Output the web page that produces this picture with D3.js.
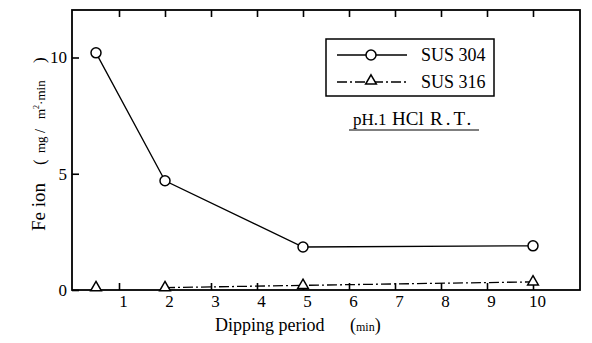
<!DOCTYPE html>
<html><head><meta charset="utf-8">
<script src="https://cdn.jsdelivr.net/npm/d3@7"></script>
<style>body{margin:0;background:#fff}svg{display:block}svg text{font-family:"Liberation Serif","Times New Roman",serif !important;fill:#000;white-space:pre}</style>
</head><body><svg id="c" width="592" height="343"></svg>
<script>
const xTicks = [1,2,3,4,5,6,7,8,9,10];
const yTicks = [0,5,10];
const sus304X = [0.5, 2, 5, 10];
const sus304Y = [10.2, 4.7, 1.85, 1.9];
const sus316X = [0.5, 2, 5, 10];
const sus316Y = [0.1, 0.1, 0.2, 0.35];
const seriesNames = ["SUS 304", "SUS 316"];
const condition = ["pH.1", "HCl", "R.T."];

const SERIF = "'Liberation Serif', 'Times New Roman', serif";
const svg = d3.select("#c");
const L=72, R=580, T=10, B=290;
const x = d3.scaleLinear().domain([0,11]).range([L+1,R-1]);
const y = d3.scaleLinear().domain([0,12]).range([B,T+1]);

svg.append("rect").attr("x",L).attr("y",T).attr("width",R-L).attr("height",B-T)
  .attr("fill","none").attr("stroke","#000").attr("stroke-width",1.8);

const xb = d3.axisBottom(x).tickValues(xTicks).tickSize(-7).tickPadding(5).tickFormat(d3.format("d"));
const gx = svg.append("g").attr("transform",`translate(0,${B})`).call(xb).attr("font-family",SERIF);
gx.select(".domain").remove();
gx.selectAll("line").attr("stroke","#000").attr("stroke-width",1.6);
gx.selectAll("text").attr("font-size",17).attr("dx",4).style("font-family",SERIF);
const gt = svg.append("g").attr("transform",`translate(0,${T})`).call(d3.axisTop(x).tickValues(xTicks).tickSize(-7).tickFormat(""));
gt.select(".domain").remove();
gt.selectAll("line").attr("stroke","#000").attr("stroke-width",1.6);
const gy = svg.append("g").attr("transform",`translate(${L},0)`).call(d3.axisLeft(y).tickValues(yTicks).tickSize(-7).tickPadding(5).tickFormat(d3.format("d"))).attr("font-family",SERIF);
gy.select(".domain").remove();
gy.selectAll("line").attr("stroke","#000").attr("stroke-width",1.6);
gy.selectAll("text").attr("font-size",17).style("font-family",SERIF);

const d304 = sus304X.map((v,i)=>[v,sus304Y[i]]);
const d316 = sus316X.map((v,i)=>[v,sus316Y[i]]);
const line = d3.line().x(d=>x(d[0])).y(d=>y(d[1]));
svg.append("path").attr("d",line(d304)).attr("fill","none").attr("stroke","#000").attr("stroke-width",1.3);
svg.append("path").attr("d",line(d316.slice(1))).attr("fill","none").attr("stroke","#000").attr("stroke-width",1.3).attr("stroke-dasharray","10,3,2,3");

const tri = d3.symbol().type(d3.symbolTriangle).size(50);
function circ(g,cx,cy){g.append("circle").attr("cx",cx).attr("cy",cy).attr("r",5).attr("fill","#fff").attr("stroke","#000").attr("stroke-width",1.5);}
function triM(g,cx,cy){g.append("path").attr("d",tri()).attr("transform",`translate(${cx},${cy})`).attr("fill","#fff").attr("stroke","#000").attr("stroke-width",1.5);}
d304.forEach(d=>circ(svg,x(d[0]),y(d[1])));
d316.forEach(d=>triM(svg,x(d[0]),y(d[1])));

const lg = svg.append("g");
lg.append("rect").attr("x",326).attr("y",39).attr("width",168).attr("height",57).attr("fill","#fff").attr("stroke","#000").attr("stroke-width",1.5);
lg.append("line").attr("x1",337).attr("x2",407).attr("y1",55).attr("y2",55).attr("stroke","#000").attr("stroke-width",1.3);
circ(lg,371,55);
lg.append("line").attr("x1",337).attr("x2",407).attr("y1",82).attr("y2",82).attr("stroke","#000").attr("stroke-width",1.3).attr("stroke-dasharray","10,3,2,3");
triM(lg,371,81);
lg.append("text").attr("x",421).attr("y",61).attr("font-size",18).style("font-family",SERIF).text(seriesNames[0]);
lg.append("text").attr("x",421).attr("y",88).attr("font-size",18).style("font-family",SERIF).text(seriesNames[1]);

const ct = svg.append("text").attr("y",125).attr("font-size",19).style("font-family",SERIF);
ct.append("tspan").attr("x",353).attr("font-size",17).text(condition[0]);
ct.append("tspan").attr("x",392).text(condition[1]);
ct.append("tspan").attr("x",430).attr("letter-spacing",3).text(condition[2]);
svg.append("line").attr("x1",349).attr("x2",479).attr("y1",130).attr("y2",130).attr("stroke","#000").attr("stroke-width",1.2);

const xt = svg.append("text").attr("x",215).attr("y",331).attr("font-size",18).style("font-family",SERIF);
xt.append("tspan").text("Dipping period");
xt.append("tspan").attr("x",350).attr("font-size",18).text("(");
xt.append("tspan").attr("font-size",12).text("min");
xt.append("tspan").attr("font-size",18).text(")");

const yt = svg.append("text").attr("transform","translate(45,231) rotate(-90)").attr("font-size",19).style("font-family",SERIF);
yt.append("tspan").text("Fe ion");
yt.append("tspan").attr("x",66).attr("font-size",17).text("(");
yt.append("tspan").attr("x",78).attr("font-size",13).text("mg");
yt.append("tspan").attr("x",98).attr("font-size",14).text("/");
yt.append("tspan").attr("x",112).attr("font-size",13).text("m");
yt.append("tspan").attr("font-size",8).attr("dy",-6).text("2");
yt.append("tspan").attr("font-size",13).attr("dy",6).text("·min");
yt.append("tspan").attr("x",168).attr("font-size",17).text(")");
</script></body></html>
